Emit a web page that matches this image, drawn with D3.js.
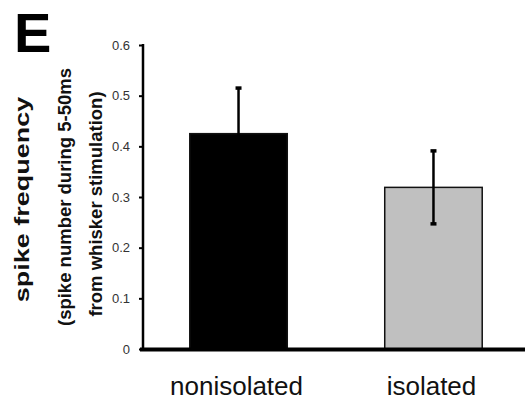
<!DOCTYPE html>
<html>
<head>
  <script src="https://d3js.org/d3.v7.min.js"></script>
  <style>
    body { margin: 0; background: #fff; }
    svg { display: block; }
  </style>
</head>
<body>
  <svg id="chart" width="525" height="405"></svg>
  <script>
    // data
    var groups = ["nonisolated", "isolated"];
    var means = [0.425, 0.319];
    var errors = [0.09, 0.072];
    var yTicks = [0, 0.1, 0.2, 0.3, 0.4, 0.5, 0.6];
    var tickLabels = ["0", "0.1", "0.2", "0.3", "0.4", "0.5", "0.6"];
    var fills = ["#000000", "#c0c0c0"];

    var svg = d3.select("#chart");

    var x = d3.scaleBand()
      .domain(groups)
      .range([143, 529])
      .paddingInner(0.5)
      .paddingOuter(0.24);

    var y = d3.scaleLinear()
      .domain([0, 0.6])
      .range([349, 45]);

    // bars
    svg.selectAll("rect.bar")
      .data(groups)
      .enter().append("rect")
      .attr("class", "bar")
      .attr("x", function(d) { return x(d); })
      .attr("width", x.bandwidth())
      .attr("y", function(d, i) { return y(means[i]); })
      .attr("height", function(d, i) { return y(0) - y(means[i]); })
      .attr("fill", function(d, i) { return fills[i]; })
      .attr("stroke", "#111")
      .attr("stroke-width", 1.5);

    // error bars
    var eb = svg.selectAll("g.err")
      .data(groups)
      .enter().append("g")
      .attr("class", "err");

    eb.append("line")
      .attr("x1", function(d) { return x(d) + x.bandwidth() / 2; })
      .attr("x2", function(d) { return x(d) + x.bandwidth() / 2; })
      .attr("y1", function(d, i) { return y(means[i] - errors[i]); })
      .attr("y2", function(d, i) { return y(means[i] + errors[i]); })
      .attr("stroke", "#000")
      .attr("stroke-width", 2.5);

    [1, -1].forEach(function(s) {
      eb.append("line")
        .attr("x1", function(d) { return x(d) + x.bandwidth() / 2 - 3; })
        .attr("x2", function(d) { return x(d) + x.bandwidth() / 2 + 3; })
        .attr("y1", function(d, i) { return y(means[i] + s * errors[i]); })
        .attr("y2", function(d, i) { return y(means[i] + s * errors[i]); })
        .attr("stroke", "#000")
        .attr("stroke-width", 3.5);
    });

    // y axis
    var yAxis = d3.axisLeft(y)
      .tickValues(yTicks)
      .tickSize(4)
      .tickPadding(9)
      .tickFormat(function(d, i) { return tickLabels[i]; });

    var gy = svg.append("g")
      .attr("transform", "translate(143,0)")
      .call(yAxis);
    gy.select(".domain").remove();
    gy.selectAll(".tick line").attr("stroke", "#000").attr("stroke-width", 2);
    gy.selectAll(".tick text")
      .attr("fill", "#333")
      .style("font-family", "'Liberation Sans Narrow', 'Arial Narrow', 'Liberation Sans', sans-serif")
      .style("font-size", "13px");

    svg.append("line")
      .attr("x1", 143).attr("x2", 143)
      .attr("y1", y(0.6) - 1).attr("y2", y(0))
      .attr("stroke", "#000")
      .attr("stroke-width", 2.5);

    // x axis (thick baseline)
    svg.append("line")
      .attr("x1", 140).attr("x2", 525)
      .attr("y1", y(0) + 0.5).attr("y2", y(0) + 0.5)
      .attr("stroke", "#000")
      .attr("stroke-width", 4);

    // category labels
    svg.selectAll("text.cat")
      .data(groups)
      .enter().append("text")
      .attr("class", "cat")
      .attr("x", function(d) { return x(d) + x.bandwidth() / 2 - 2; })
      .attr("y", 395)
      .attr("text-anchor", "middle")
      .style("font-family", "'Liberation Sans', Arial, sans-serif")
      .style("font-size", "26px")
      .attr("fill", "#111")
      .text(function(d) { return d; });

    // panel letter
    svg.append("text")
      .attr("x", 14)
      .attr("y", 52)
      .style("font-family", "'Liberation Sans', Arial, sans-serif")
      .style("font-weight", "bold")
      .style("font-size", "56px")
      .text("E");

    // y axis titles
    var yTitle = svg.append("g")
      .style("font-family", "'Liberation Sans', Arial, sans-serif")
      .style("font-weight", "bold")
      .attr("text-anchor", "middle")
      .attr("fill", "#111");

    yTitle.append("text")
      .attr("transform", "translate(29,199.5) rotate(-90) scale(1,0.72)")
      .style("font-size", "27px")
      .text("spike frequency");

    yTitle.append("text")
      .attr("transform", "translate(71,197) rotate(-90)")
      .style("font-size", "18.5px")
      .text("(spike number during 5-50ms");

    yTitle.append("text")
      .attr("transform", "translate(102,204) rotate(-90)")
      .style("font-size", "18.5px")
      .text("from whisker stimulation)");
  </script>
</body>
</html>
